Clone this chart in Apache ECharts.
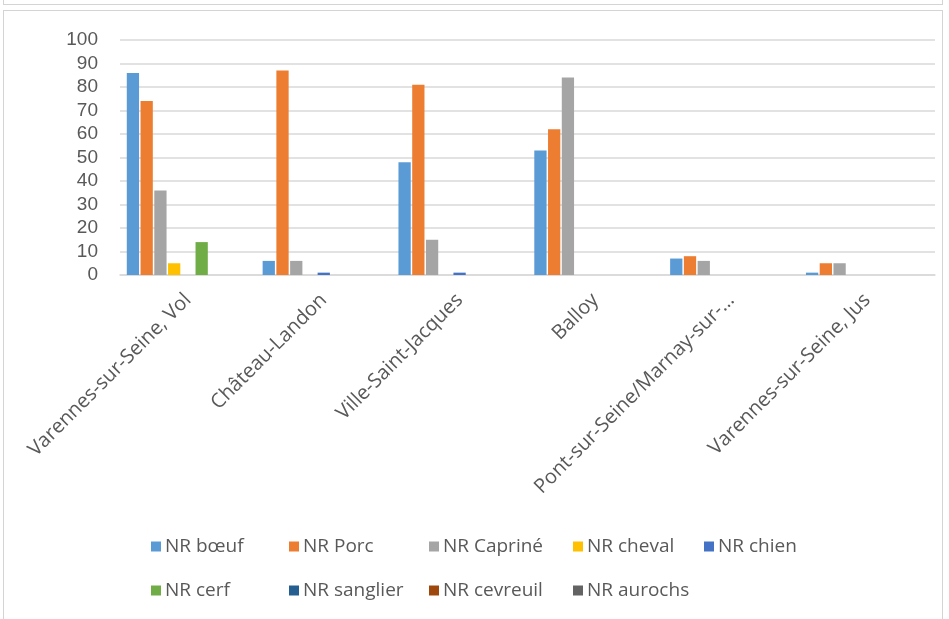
<!DOCTYPE html>
<html>
<head>
<meta charset="utf-8">
<script src="https://cdn.jsdelivr.net/npm/echarts@6/dist/echarts.min.js"></script>
<style>
  html, body { margin: 0; padding: 0; background: #fff; }
  #wrap { position: relative; width: 949px; height: 619px; overflow: hidden; background: #fff; }
  #topbox { position: absolute; left: 3px; top: -10px; width: 940px; height: 15px; border: 1px solid #d4d4d4; box-sizing: border-box; }
  #frame { position: absolute; left: 3px; top: 10px; width: 940px; height: 630px; border: 1px solid #d4d4d4; box-sizing: border-box; }
  #chart { position: absolute; left: 0; top: 0; width: 949px; height: 619px; }
</style>
</head>
<body>
<div id="wrap">
  <div id="topbox"></div>
  <div id="frame"></div>
  <div id="chart"></div>
</div>
<script>
const categories = ["Varennes-sur-Seine, Vol", "Château-Landon", "Ville-Saint-Jacques", "Balloy", "Pont-sur-Seine/Marnay-sur-…", "Varennes-sur-Seine, Jus"];
const yTicks = [0, 10, 20, 30, 40, 50, 60, 70, 80, 90, 100];

const seriesNames = ["NR bœuf", "NR Porc", "NR Capriné", "NR cheval", "NR chien", "NR cerf", "NR sanglier", "NR cevreuil", "NR aurochs"];
const nrBoeuf    = [86, 6, 48, 53, 7, 1];
const nrPorc     = [74, 87, 81, 62, 8, 5];
const nrCaprine  = [36, 6, 15, 84, 6, 5];
const nrCheval   = [5, 0, 0, 0, 0, 0];
const nrChien    = [0, 1, 1, 0, 0, 0];
const nrCerf     = [14, 0, 0, 0, 0, 0];
const nrSanglier = [0, 0, 0, 0, 0, 0];
const nrCevreuil = [0, 0, 0, 0, 0, 0];
const nrAurochs  = [0, 0, 0, 0, 0, 0];
const seriesValues = [nrBoeuf, nrPorc, nrCaprine, nrCheval, nrChien, nrCerf, nrSanglier, nrCevreuil, nrAurochs];
const colors = ["#5B9BD5", "#ED7D31", "#A5A5A5", "#FFC000", "#4472C4", "#70AD47", "#255E91", "#9E480E", "#636363"];

// legend columns (grid layout like Excel)
const legendColumns = [
  { left: 146, items: ["NR bœuf", "NR cerf"] },
  { left: 284, items: ["NR Porc", "NR sanglier"] },
  { left: 424, items: ["NR Capriné", "NR cevreuil"] },
  { left: 568, items: ["NR cheval", "NR aurochs"] },
  { left: 699, items: ["NR chien"] }
];

const FONT = "Liberation Sans, Arial, sans-serif";
const FONT2 = "Open Sans, sans-serif";
const chart = echarts.init(document.getElementById('chart'), null, { renderer: 'canvas' });

const option = {
  animation: false,
  color: colors,
  textStyle: { fontFamily: FONT },
  grid: { left: 120, right: 14, top: 40, bottom: 344, containLabel: false },
  legend: legendColumns.map(c => ({
    orient: 'vertical',
    left: c.left,
    top: 532,
    itemGap: 25,
    itemWidth: 10,
    itemHeight: 10,
    icon: 'rect',
    data: c.items,
    selectedMode: false,
    textStyle: { fontSize: 19, color: '#595959', fontFamily: FONT2, padding: [0, 0, 0, -1] }
  })),
  xAxis: {
    type: 'category',
    data: categories,
    axisLine: { lineStyle: { color: '#d9d9d9', width: 1.5 } },
    axisTick: { show: false },
    axisLabel: { rotate: 45, interval: 0, fontSize: 20, color: '#595959', margin: 22, fontFamily: FONT2 }
  },
  yAxis: {
    type: 'value',
    min: yTicks[0],
    max: yTicks[yTicks.length - 1],
    interval: 10,
    axisLine: { show: false },
    axisTick: { show: false },
    splitLine: { lineStyle: { color: '#d9d9d9', width: 1.5 } },
    axisLabel: { fontSize: 19, color: '#595959', margin: 22, fontFamily: FONT }
  },
  series: seriesNames.map((name, i) => ({
    name: name,
    type: 'bar',
    data: seriesValues[i],
    barGap: '12%',
    barCategoryGap: '10%',
    itemStyle: { color: colors[i] }
  }))
};
chart.setOption(option);
</script>
</body>
</html>
